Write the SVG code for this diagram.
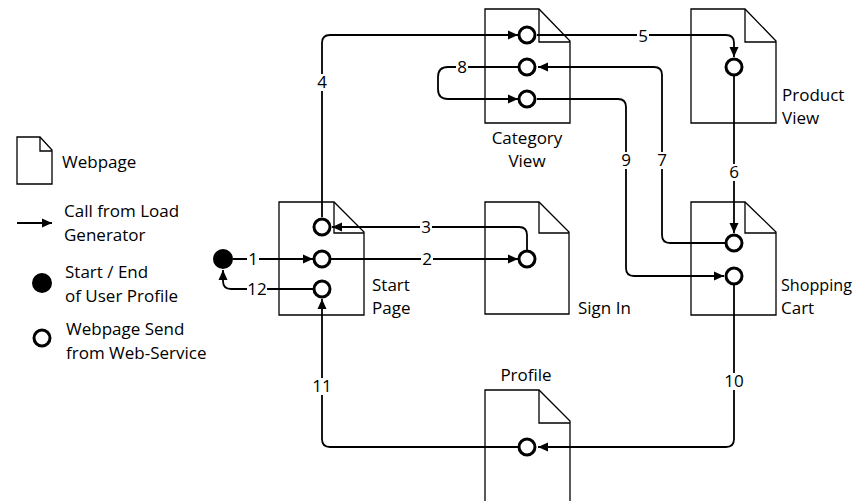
<svg xmlns="http://www.w3.org/2000/svg" width="854" height="501" viewBox="0 0 854 501">
<defs>
<marker id="arr" markerUnits="userSpaceOnUse" markerWidth="11" markerHeight="10" refX="10" refY="5" orient="auto">
<path d="M0,0.5 L10,5 L0,9.5 z" fill="#000"/>
</marker>
</defs>
<style>
.page{fill:#fff;stroke:#000;stroke-width:1.3;stroke-linejoin:miter}
.fold{fill:none;stroke:#000;stroke-width:1.3}
.port{fill:#fff;stroke:#000;stroke-width:3}
.dot{fill:#000}
.con{fill:none;stroke:#000;stroke-width:1.8;marker-end:url(#arr)}
.bg{fill:#fff;stroke:none}
text{font-family:"Open Sans","Noto Sans","Liberation Sans",sans-serif;font-size:17px;fill:#000}
.mid{text-anchor:middle}
</style>
<rect width="854" height="501" fill="#fff"/>

<g id="legend">
<path class="page" d="M17,137 H40 L52,150 V184 H17 Z"/>
<path class="fold" d="M40,137 V151 H52"/>
<text x="62" y="168">Webpage</text>
<path class="con" d="M17,223 H52"/>
<text x="64" y="217">Call from Load</text>
<text x="64" y="241">Generator</text>
<circle class="dot" cx="42" cy="283" r="10"/>
<text x="65" y="278">Start / End</text>
<text x="65" y="302">of User Profile</text>
<circle class="port" cx="42" cy="338" r="8"/>
<text x="66" y="335">Webpage Send</text>
<text x="66" y="359">from Web-Service</text>
</g>

<g id="category-view">
<path class="page" d="M485,9 H539 L570,41 V123 H485 Z"/>
<path class="fold" d="M539,9 V42 H570"/>
<text class="mid" x="527" y="144">Category</text>
<text class="mid" x="527" y="167">View</text>
</g>

<g id="product-view">
<path class="page" d="M691,9 H745 L776,41 V123 H691 Z"/>
<path class="fold" d="M745,9 V42 H776"/>
<text x="782" y="101">Product</text>
<text x="782" y="124">View</text>
</g>

<g id="start-page">
<path class="page" d="M279,202 H334 L364,232 V315 H279 Z"/>
<path class="fold" d="M334,202 V233 H364"/>
<text x="372" y="291">Start</text>
<text x="372" y="314">Page</text>
</g>

<g id="sign-in">
<path class="page" d="M485,202 H539 L569,232 V314 H485 Z"/>
<path class="fold" d="M539,202 V233 H569"/>
<text x="578" y="314">Sign In</text>
</g>

<g id="shopping-cart">
<path class="page" d="M691,202 H745 L776,232 V315 H691 Z"/>
<path class="fold" d="M745,202 V233 H776"/>
<text x="781" y="291" textLength="71" lengthAdjust="spacingAndGlyphs">Shopping</text>
<text x="781" y="314">Cart</text>
</g>

<g id="profile">
<path class="page" d="M485,390 H539 L570,421 V505 H485 Z"/>
<path class="fold" d="M539,390 V423 H570"/>
<text class="mid" x="526" y="381">Profile</text>
</g>

<g id="start-end">
<circle class="dot" cx="223" cy="259" r="10"/>
</g>

<g id="connectors">
<path class="con" d="M233,259 H313"/>
<path class="con" d="M331,259 H518"/>
<path class="con" d="M527,250 V235 Q527,227 519,227 H332"/>
<path class="con" d="M322,217 V43 Q322,35 330,35 H518"/>
<path class="con" d="M537,35 H726 Q734,35 734,43 V57"/>
<path class="con" d="M734,76 V233"/>
<path class="con" d="M725,243 H670 Q662,243 662,235 V75 Q662,67 654,67 H538"/>
<path class="con" d="M518,67 H448 Q438,67 438,77 V89 Q438,99 448,99 H518"/>
<path class="con" d="M537,99 H618 Q626,99 626,107 V268 Q626,276 634,276 H724"/>
<path class="con" d="M734,285 V439 Q734,447 726,447 H538"/>
<path class="con" d="M518,447 H330 Q322,447 322,439 V299"/>
<path class="con" d="M313,289 H231 Q223,289 223,281 V270"/>
</g>

<g id="ports">
<circle class="port" cx="322" cy="227" r="8"/>
<circle class="port" cx="322" cy="259" r="8"/>
<circle class="port" cx="322" cy="289" r="8"/>
<circle class="port" cx="527" cy="259" r="8"/>
<circle class="port" cx="527" cy="35" r="8"/>
<circle class="port" cx="527" cy="67" r="8"/>
<circle class="port" cx="527" cy="99" r="8"/>
<circle class="port" cx="734" cy="67" r="8"/>
<circle class="port" cx="734" cy="243" r="8"/>
<circle class="port" cx="734" cy="276" r="8"/>
<circle class="port" cx="527" cy="447" r="8"/>
</g>

<g id="labels">
<rect class="bg" x="247" y="252" width="12" height="15"/>
<text class="mid" x="253" y="265">1</text>
<rect class="bg" x="421" y="252" width="12" height="15"/>
<text class="mid" x="427" y="265">2</text>
<rect class="bg" x="420" y="220" width="12" height="15"/>
<text class="mid" x="426" y="233">3</text>
<rect class="bg" x="315" y="74" width="14" height="17"/>
<text class="mid" x="322" y="88">4</text>
<rect class="bg" x="637" y="28" width="12" height="15"/>
<text class="mid" x="643" y="42">5</text>
<rect class="bg" x="727" y="164" width="14" height="17"/>
<text class="mid" x="734" y="178">6</text>
<rect class="bg" x="655" y="152" width="14" height="17"/>
<text class="mid" x="662" y="166">7</text>
<rect class="bg" x="456" y="60" width="12" height="15"/>
<text class="mid" x="462" y="73">8</text>
<rect class="bg" x="619" y="152" width="14" height="17"/>
<text class="mid" x="626" y="166">9</text>
<rect class="bg" x="724" y="373" width="20" height="17"/>
<text class="mid" x="734" y="387">10</text>
<rect class="bg" x="312" y="378" width="20" height="17"/>
<text class="mid" x="322" y="392">11</text>
<rect class="bg" x="247" y="282" width="20" height="15"/>
<text class="mid" x="257" y="295">12</text>
</g>
</svg>
